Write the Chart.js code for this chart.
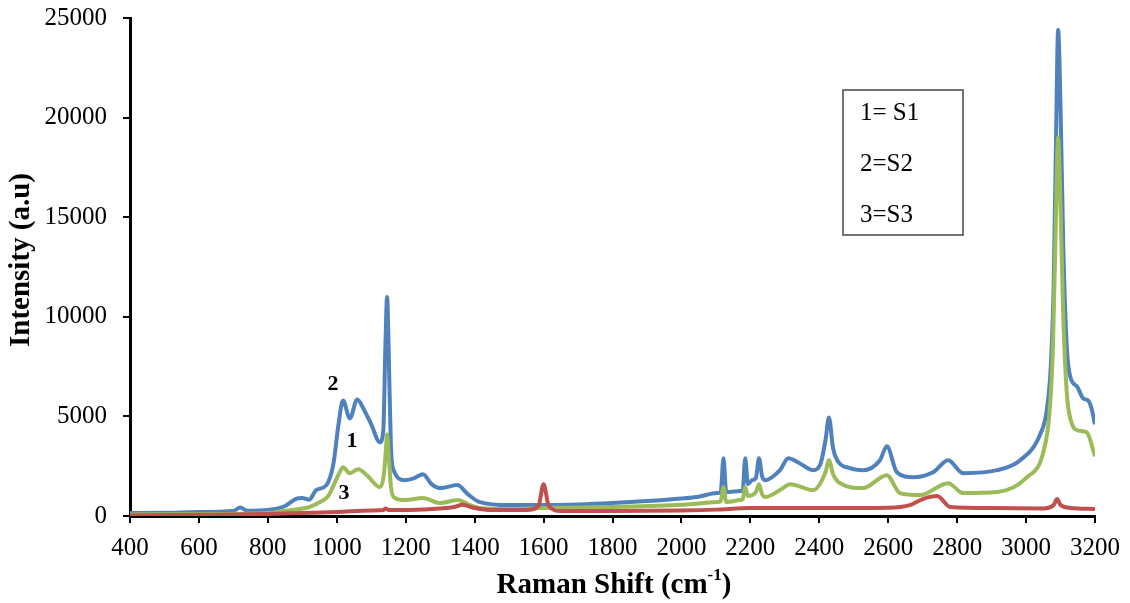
<!DOCTYPE html>
<html>
<head>
<meta charset="utf-8">
<script src="https://cdn.jsdelivr.net/npm/chart.js@4/dist/chart.umd.min.js"></script>
<style>
  html, body { margin: 0; padding: 0; background: #fff; }
  #wrap { width: 1130px; height: 603px; position: relative; }
</style>
</head>
<body>
<div id="wrap"><canvas id="myChart"></canvas></div>
<script>
// axis ticks
var xTicks = [400, 3200, 200];
var yTicks = [0, 25000, 5000];

// S2 (blue) - curve "2"
var s2X = [400,500,600,700,720,740,800,850,880,900,920,940,970,990,1005,1018,1038,1059,1080,1100,1125,1135,1141,1146,1151,1157,1165,1198,1225,1250,1275,1300,1350,1380,1415,1500,1600,1700,1800,1900,2000,2050,2103,2114,2122,2130,2170,2178,2185,2193,2205,2216,2225,2234,2243,2286,2310,2338,2382,2402,2418,2428,2440,2452,2489,2527,2576,2596,2625,2672,2730,2774,2817,2916,2983,3041,3060,3072,3080,3087,3093,3100,3108,3118,3128,3148,3166,3180,3190,3200];
var s2Y = [150,160,200,250,430,260,300,500,850,900,820,1300,1550,2600,4600,5800,4900,5850,5300,4600,3700,4300,8500,11000,8000,3500,2300,1800,1900,2100,1600,1400,1550,1100,700,550,550,580,650,750,880,970,1150,1200,2900,1200,1250,1300,2900,1600,1800,1900,2900,2000,1800,2300,2900,2700,2300,2550,3800,4950,3400,2800,2400,2300,2800,3500,2200,1950,2200,2800,2150,2300,2800,4100,5300,7600,11500,19000,24400,20500,13500,8500,7000,6500,5900,5800,5400,4600];

// S1 (green) - curve "1"
var s1X = [400,600,800,850,893,920,951,975,995,1010,1018,1038,1062,1090,1125,1136,1142,1146,1151,1157,1165,1198,1250,1300,1352,1380,1415,1500,1600,1800,1900,2000,2103,2114,2122,2130,2170,2178,2185,2193,2205,2216,2225,2234,2243,2286,2315,2382,2418,2428,2440,2460,2527,2596,2634,2692,2774,2817,2916,3003,3050,3068,3078,3086,3093,3100,3108,3118,3130,3150,3176,3200];
var s1Y = [80,100,150,260,350,450,700,1000,1700,2250,2450,2150,2350,2000,1450,2000,3200,4100,3000,1500,950,800,900,650,800,600,400,350,400,450,500,560,700,750,1450,700,800,850,1450,1000,1050,1200,1600,1100,950,1300,1600,1300,2200,2800,2100,1650,1400,2050,1150,1050,1650,1150,1200,1950,3200,5200,8500,14500,19000,15500,10000,6200,4800,4300,4200,3000];

// S3 (red) - curve "3"
var s3X = [400,600,800,900,1000,1100,1135,1142,1150,1250,1340,1365,1400,1450,1550,1585,1600,1615,1650,1800,2000,2100,2200,2400,2600,2663,2700,2742,2780,2900,3050,3080,3090,3100,3130,3200];
var s3Y = [30,60,100,150,200,280,300,380,300,330,450,560,400,300,300,500,1600,500,250,250,280,320,400,400,420,550,850,1000,450,400,380,550,850,550,400,350];

var seriesNames = ['S1', 'S2', 'S3'];
var curveNums = ['1', '2', '3'];
// where the curve numbers sit, in data units
var numX = [1044, 989, 1021];
var numY = [3770, 6630, 1150];

function pts(xs, ys) {
    var out = [];
    for (var i = 0; i < xs.length; i++) out.push({x: xs[i], y: ys[i]});
    return out;
}

var serif = '"Liberation Serif", "Times New Roman", serif';

var extras = {
    id: 'extras',
    afterDraw: function(chart) {
        var ctx = chart.ctx;
        var sx = chart.scales.x, sy = chart.scales.y;
        ctx.save();
        ctx.fillStyle = '#000';

        // curve numbers
        ctx.font = 'bold 22px ' + serif;
        ctx.textAlign = 'center';
        ctx.textBaseline = 'middle';
        for (var i = 0; i < curveNums.length; i++) {
            ctx.fillText(curveNums[i], sx.getPixelForValue(numX[i]), sy.getPixelForValue(numY[i]));
        }

        // legend box
        ctx.strokeStyle = '#444';
        ctx.lineWidth = 1.5;
        ctx.strokeRect(843, 90, 120, 145);
        ctx.font = '25px ' + serif;
        ctx.textAlign = 'left';
        ctx.fillText('1= ' + seriesNames[0], 860, 113);
        ctx.fillText('2=' + seriesNames[1], 860, 164);
        ctx.fillText('3=' + seriesNames[2], 860, 215);

        // y title
        ctx.save();
        ctx.translate(22, 260);
        ctx.rotate(-Math.PI / 2);
        ctx.font = 'bold 29px ' + serif;
        ctx.textAlign = 'center';
        ctx.fillText('Intensity (a.u)', 0, 0);
        ctx.restore();

        // x title with superscript
        var a = 'Raman Shift (cm', sup = '-1', b = ')';
        ctx.font = 'bold 29px ' + serif;
        var wa = ctx.measureText(a).width, wb = ctx.measureText(b).width;
        ctx.font = 'bold 17px ' + serif;
        var ws = ctx.measureText(sup).width;
        var x0 = 614 - (wa + ws + wb) / 2;
        ctx.textAlign = 'left';
        ctx.textBaseline = 'alphabetic';
        ctx.font = 'bold 29px ' + serif;
        ctx.fillText(a, x0, 593);
        ctx.font = 'bold 17px ' + serif;
        ctx.fillText(sup, x0 + wa, 580);
        ctx.font = 'bold 29px ' + serif;
        ctx.fillText(b, x0 + wa + ws, 593);
        ctx.restore();
    }
};

var ctx = document.getElementById('myChart');
var chart = new Chart(ctx, {
    type: 'line',
    data: {
        datasets: [
            {
                label: seriesNames[2],
                data: pts(s3X, s3Y),
                borderColor: '#C0504D',
                borderWidth: 4,
                order: 1
            },
            {
                label: seriesNames[0],
                data: pts(s1X, s1Y),
                borderColor: '#9BBB59',
                borderWidth: 4,
                order: 2
            },
            {
                label: seriesNames[1],
                data: pts(s2X, s2Y),
                borderColor: '#4F81BD',
                borderWidth: 4,
                order: 3
            }
        ]
    },
    options: {
        responsive: true,
        maintainAspectRatio: false,
        animation: false,
        layout: { padding: { top: 18, right: 35, left: 0, bottom: 0 } },
        elements: {
            point: { radius: 0 },
            line: { cubicInterpolationMode: 'monotone', borderJoinStyle: 'round' }
        },
        plugins: {
            legend: { display: false },
            tooltip: { enabled: false }
        },
        scales: {
            x: {
                type: 'linear',
                min: xTicks[0],
                max: xTicks[1],
                afterFit: function(s) { s.height = 87; s.paddingLeft = 0; s.paddingRight = 0; },
                ticks: {
                    stepSize: xTicks[2],
                    color: '#000',
                    font: { family: serif, size: 25 },
                    padding: 10,
                    maxRotation: 0,
                    autoSkip: false,
                    callback: function(v) { return String(v); }
                },
                grid: { drawOnChartArea: false, tickLength: 7, tickColor: '#000', lineWidth: 2 },
                border: { color: '#000', width: 3 }
            },
            y: {
                min: yTicks[0],
                max: yTicks[1],
                afterFit: function(s) { s.width = 130; s.paddingTop = 0; s.paddingBottom = 0; },
                ticks: {
                    stepSize: yTicks[2],
                    color: '#000',
                    font: { family: serif, size: 25 },
                    padding: 16,
                    callback: function(v) { return String(v); }
                },
                grid: { drawOnChartArea: false, tickLength: 7, tickColor: '#000', lineWidth: 2 },
                border: { color: '#000', width: 3 }
            }
        }
    },
    plugins: [extras]
});
</script>
</body>
</html>
